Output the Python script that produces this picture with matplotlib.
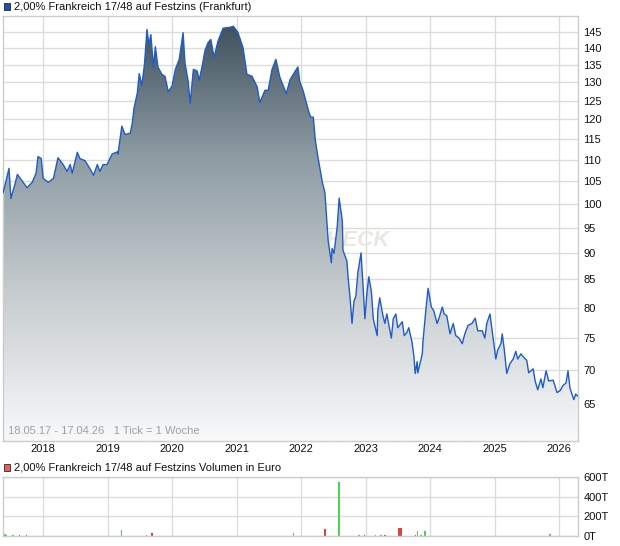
import numpy as np
import matplotlib.pyplot as plt
from matplotlib.colors import LinearSegmentedColormap
from matplotlib.patches import Rectangle
from matplotlib.transforms import IdentityTransform

plt.rcParams['font.family'] = ['Liberation Sans', 'DejaVu Sans']

# weekly closing prices, x in decimal years
years = [2017.38, 2017.47, 2017.50, 2017.57, 2017.60, 2017.69, 2017.75, 2017.83, 2017.89, 2017.92,
         2017.97, 2018.00, 2018.08, 2018.16, 2018.23, 2018.31, 2018.37, 2018.42, 2018.45, 2018.53,
         2018.57, 2018.65, 2018.73, 2018.78, 2018.84, 2018.88, 2018.93, 2018.99, 2019.07, 2019.15,
         2019.16, 2019.19, 2019.22, 2019.27, 2019.35, 2019.38, 2019.41, 2019.46, 2019.49, 2019.53,
         2019.57, 2019.61, 2019.64, 2019.67, 2019.71, 2019.74, 2019.78, 2019.84, 2019.89, 2019.94,
         2020.00, 2020.05, 2020.11, 2020.17, 2020.20, 2020.25, 2020.28, 2020.33, 2020.39, 2020.42,
         2020.47, 2020.51, 2020.56, 2020.60, 2020.65, 2020.71, 2020.79, 2020.90, 2020.95, 2021.02,
         2021.10, 2021.16, 2021.24, 2021.32, 2021.36, 2021.44, 2021.49, 2021.55, 2021.61, 2021.67,
         2021.77, 2021.83, 2021.91, 2021.95, 2021.98, 2022.03, 2022.09, 2022.12, 2022.15, 2022.19,
         2022.22, 2022.26, 2022.33, 2022.37, 2022.40, 2022.42, 2022.47, 2022.48, 2022.51, 2022.56,
         2022.59, 2022.64, 2022.65, 2022.71, 2022.73, 2022.76, 2022.79, 2022.82, 2022.85, 2022.88,
         2022.93, 2022.96, 2022.99, 2023.02, 2023.05, 2023.09, 2023.12, 2023.18, 2023.19, 2023.22,
         2023.27, 2023.30, 2023.33, 2023.40, 2023.43, 2023.47, 2023.50, 2023.57, 2023.60, 2023.64,
         2023.67, 2023.72, 2023.75, 2023.77, 2023.80, 2023.81, 2023.88, 2023.89, 2023.94, 2023.97,
         2024.02, 2024.06, 2024.11, 2024.14, 2024.19, 2024.22, 2024.26, 2024.31, 2024.36, 2024.40,
         2024.45, 2024.50, 2024.54, 2024.59, 2024.65, 2024.70, 2024.74, 2024.81, 2024.85, 2024.88,
         2024.93, 2024.96, 2024.99, 2025.02, 2025.05, 2025.10, 2025.12, 2025.15, 2025.19, 2025.24,
         2025.29, 2025.33, 2025.36, 2025.41, 2025.44, 2025.50, 2025.53, 2025.60, 2025.63, 2025.67,
         2025.72, 2025.75, 2025.80, 2025.84, 2025.91, 2025.97, 2026.02, 2026.06, 2026.11, 2026.14,
         2026.17, 2026.20, 2026.23, 2026.26, 2026.29]
prices = [102.5, 108.0, 101.2, 104.8, 106.6, 104.8, 103.6, 104.8, 106.9, 110.8,
          110.3, 105.7, 104.8, 105.7, 110.5, 108.9, 107.3, 108.9, 106.9, 111.8,
          110.3, 109.8, 107.8, 106.4, 108.9, 107.3, 108.9, 108.9, 111.4, 111.9,
          111.4, 114.9, 118.3, 116.2, 116.5, 118.8, 123.1, 127.0, 132.5, 129.2,
          134.9, 145.7, 141.0, 144.1, 134.4, 140.4, 134.4, 132.3, 131.7, 127.4,
          129.0, 133.7, 136.6, 144.7, 135.5, 130.2, 124.3, 133.7, 133.2, 130.6,
          135.0, 139.3, 141.7, 142.6, 137.2, 142.0, 146.1, 146.4, 146.7, 144.8,
          140.1, 132.3, 131.7, 128.7, 124.5, 127.8, 127.8, 133.7, 136.6, 131.5,
          126.9, 130.8, 133.2, 134.4, 130.2, 127.8, 123.9, 122.0, 120.6, 120.6,
          114.9, 110.8, 104.8, 102.5, 96.5, 92.4, 88.1, 90.9, 89.9, 95.1,
          101.3, 96.5, 90.5, 88.5, 85.3, 81.7, 77.3, 81.1, 82.0, 86.2,
          90.0, 84.1, 78.1, 82.4, 85.5, 82.9, 78.1, 75.3, 79.4, 81.7,
          78.6, 77.3, 78.9, 74.9, 78.1, 78.9, 76.6, 77.6, 75.3, 75.8,
          76.6, 74.3, 72.0, 69.4, 71.2, 69.5, 72.4, 74.3, 80.1, 83.4,
          80.1, 79.4, 77.3, 78.2, 80.1, 78.9, 78.6, 75.6, 77.3, 75.3,
          74.9, 74.0, 75.6, 77.0, 77.3, 78.2, 76.1, 76.1, 74.9, 77.3,
          78.9, 76.4, 74.0, 71.6, 73.0, 74.0, 75.6, 73.2, 69.4, 70.9,
          71.6, 72.8, 71.6, 72.4, 72.0, 71.4, 69.5, 70.1, 68.3, 67.0,
          68.6, 67.3, 69.8, 68.3, 68.4, 66.6, 66.9, 67.6, 68.0, 69.8,
          67.3, 66.4, 65.6, 66.4, 66.1]

# weekly volume in thousand euro, colour = up/down week
vol_years = [2017.41, 2017.43, 2017.52, 2017.53, 2017.63, 2017.74, 2018.12, 2018.93, 2019.21, 2019.44,
             2019.60, 2019.69, 2021.07, 2021.88, 2022.29, 2022.37, 2022.45, 2022.53, 2022.59, 2022.64,
             2022.68, 2022.76, 2022.90, 2022.98, 2023.04, 2023.09, 2023.15, 2023.19, 2023.24, 2023.30,
             2023.52, 2023.55, 2023.61, 2023.69, 2023.72, 2023.77, 2023.81, 2023.86, 2023.92, 2024.05,
             2024.31, 2024.48, 2024.57, 2024.65, 2024.81, 2024.87, 2024.93, 2025.86, 2026.28]
vol_values = [20, 10, 8, 10, 10, 10, 4, 3, 60, 5,
              10, 33, 3, 30, 3, 71, 3, 3, 549, 5,
              5, 4, 10, 10, 5, 5, 8, 5, 6, 10,
              80, 80, 5, 5, 5, 8, 50, 15, 55, 5,
              5, 3, 3, 5, 5, 5, 2, 20, 3]
vol_up = ['g', 'g', 'r', 'g', 'r', 'r', 'r', 'g', 'g', 'g',
          'g', 'r', 'r', 'g', 'r', 'r', 'r', 'g', 'g', 'r',
          'r', 'g', 'g', 'r', 'r', 'r', 'g', 'g', 'g', 'r',
          'r', 'r', 'r', 'r', 'r', 'r', 'g', 'g', 'g', 'r',
          'r', 'r', 'g', 'r', 'r', 'g', 'g', 'g', 'r']

year_ticks = [2018, 2019, 2020, 2021, 2022, 2023, 2024, 2025, 2026]
price_ticks = [65, 70, 75, 80, 85, 90, 95, 100, 105, 110, 115, 120, 125, 130, 135, 140, 145]
vol_ticks = [0, 200, 400, 600]

W, H = 620, 546
fig = plt.figure(figsize=(W / 100, H / 100), dpi=100)
grid_c = '#dcdcdc'
x0, x1 = 2017.377, 2026.295
fs = 8.0

# ---- price panel
ax = fig.add_axes([3 / W, 1 - 441 / H, 575 / W, 425 / H])
ax.set_yscale('log')
ax.set_xlim(x0, x1)
ax.set_ylim(60, 150)

fill = ax.fill_between(years, prices, 50, color='none', lw=0)
cmap = LinearSegmentedColormap.from_list('g', ['#f8f9fa', '#c9ced1', '#8e9ca4', '#3c4d59'])
grad = np.linspace(0, 1, 256).reshape(-1, 1)
im = ax.imshow(grad, cmap=cmap, extent=[0, 1, 0, 1], transform=ax.transAxes,
               origin='lower', aspect='auto', zorder=1)
im.set_clip_path(fill.get_paths()[0], transform=ax.transData)
ax.plot(years, prices, color='#1f5cc8', lw=1.0, zorder=3)

# watermark, mostly hidden behind the area
wm = ax.text(390, H - 240, 'CHECK', fontsize=16, fontweight='bold', style='italic',
             color='#ebe7e1', ha='right', va='center', zorder=0.9)
wm.set_transform(IdentityTransform())

ax.set_xticks(year_ticks)
ax.set_xticklabels([str(y) for y in year_ticks])
ax.set_yticks(price_ticks)
ax.set_yticklabels([str(p) for p in price_ticks])
ax.yaxis.set_minor_locator(plt.NullLocator())
ax.yaxis.set_minor_formatter(plt.NullFormatter())
ax.yaxis.tick_right()
ax.tick_params(axis='both', length=0, labelsize=fs, colors='#111111')
ax.tick_params(axis='y', pad=4)
ax.tick_params(axis='x', pad=2)
ax.grid(True, color=grid_c, lw=1)
ax.set_axisbelow(True)
for s in ax.spines.values():
    s.set_color('#cccccc')
    s.set_linewidth(1)
ax.text(0.008, 0.012, '18.05.17 - 17.04.26   1 Tick = 1 Woche', transform=ax.transAxes,
        fontsize=fs, color='#a0a0a0', ha='left', va='bottom', zorder=4)

# ---- volume panel
av = fig.add_axes([3 / W, 1 - 536 / H, 575 / W, 59 / H])
av.set_xlim(x0, x1)
av.set_ylim(0, 600)
colors = ['#4fd04f' if c == 'g' else '#e04040' for c in vol_up]
av.bar(vol_years, vol_values, width=0.02, color=colors, lw=0, antialiased=False, zorder=2)
av.set_xticks(year_ticks)
av.set_xticklabels([])
av.set_yticks(vol_ticks)
av.set_yticklabels([f'{v}T' for v in vol_ticks])
av.yaxis.tick_right()
av.tick_params(axis='both', length=0, labelsize=fs, colors='#111111')
av.tick_params(axis='y', pad=4)
av.grid(True, color=grid_c, lw=1)
av.set_axisbelow(True)
for s in av.spines.values():
    s.set_color('#cccccc')
    s.set_linewidth(1)

# ---- legend headers
fig.patches.append(Rectangle((3.5 / W, 1 - 9.5 / H), 6.5 / W, 6.5 / H, transform=fig.transFigure,
                             facecolor='#1f4fb0', edgecolor='#222244', lw=0.6))
fig.text(14 / W, 1 - 6.5 / H, '2,00% Frankreich 17/48 auf Festzins (Frankfurt)',
         fontsize=fs, color='#111111', ha='left', va='center')
fig.patches.append(Rectangle((3.5 / W, 1 - 470.5 / H), 6.5 / W, 6.5 / H, transform=fig.transFigure,
                             facecolor='#e06060', edgecolor='#442222', lw=0.6))
fig.text(14 / W, 1 - 467 / H, '2,00% Frankreich 17/48 auf Festzins Volumen in Euro',
         fontsize=fs, color='#111111', ha='left', va='center')

fig.savefig('out.png', dpi=100)
